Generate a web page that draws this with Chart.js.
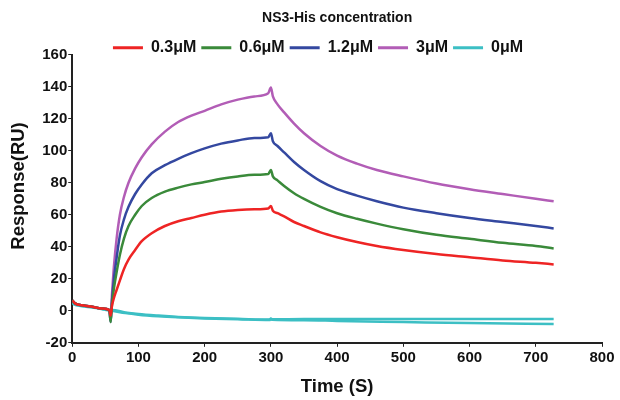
<!DOCTYPE html>
<html>
<head>
<meta charset="utf-8">
<script src="https://cdn.jsdelivr.net/npm/chart.js@4.4.0/dist/chart.umd.min.js"></script>
<style>
    html, body { margin: 0; padding: 0; background: #fff; }
    #wrap { width: 620px; height: 400px; }
</style>
</head>
<body>
<div id="wrap"><canvas id="chartSensor"></canvas></div>
<script>
// time points (s) shared by the four analyte curves
const tiempos = [0, 5, 15, 30, 45, 56, 58, 60, 63, 67, 72, 78, 85, 95, 105, 120, 140, 160, 180, 200, 225, 250, 275, 296, 300, 303, 310, 320, 335, 350, 375, 400, 430, 460, 500, 550, 600, 650, 700, 727];
const resp_03 = [6.5, 4.5, 3.5, 2.5, 1.5, 0.5, -3, 3, 8, 13, 19, 26, 32, 38, 43.5, 48.5, 53, 56, 58, 60, 62, 63, 63.5, 64, 65.5, 62.5, 61, 59, 55.5, 53, 49, 46, 43, 40.5, 38, 35.5, 33.5, 31.5, 30, 29];
const resp_06 = [6.5, 4.5, 3.5, 2.5, 1.5, 0.5, -7, 4, 14, 24, 35, 45, 53, 60, 65.5, 70.5, 74.5, 77, 79, 80.5, 82.5, 84, 85, 85.5, 88, 84, 81.5, 78, 73.5, 70, 65, 61, 57.5, 54.5, 51, 47.5, 45, 42.5, 40.5, 39];
const resp_12 = [6.5, 4.5, 3.5, 2.5, 1.5, 0.5, -7, 6, 20, 33, 47, 57, 65, 73, 79, 86, 91, 95, 98.5, 101.5, 104.5, 106.5, 108, 108.5, 111, 106, 103, 99, 93, 88, 81, 76, 72, 68.5, 64.5, 61, 58, 55.5, 53, 51.5];
const resp_3 = [6.5, 4.5, 3.5, 2.5, 1.5, 0.5, -4, 10, 28, 45, 60, 71, 80, 89, 96, 104, 112, 118, 122, 125, 129, 132, 134, 136, 139.5, 134, 129, 124, 117, 111, 103, 97, 92, 88, 84, 79.5, 76, 73, 70, 68.5];

// blank (0 uM) runs, two traces
const tiempos_0 = [0, 5, 15, 30, 45, 56, 60, 80, 100, 130, 160, 200, 250, 298, 300, 302, 350, 400, 500, 600, 727];
const resp_0a = [5, 4, 3.2, 2.3, 1.3, 0.5, 0.5, -1, -2, -3, -3.8, -4.5, -5, -5.5, -4.8, -5.3, -5.2, -5.2, -5.2, -5.2, -5.2];
const resp_0b = [4.5, 3.6, 2.8, 2, 1, 0.2, 0, -1.4, -2.4, -3.4, -4.1, -4.8, -5.3, -5.8, -5.2, -5.6, -5.9, -6.3, -7, -7.7, -8.3];

const etiquetas = ['0.3\u03bcM', '0.6\u03bcM', '1.2\u03bcM', '3\u03bcM', '0\u03bcM'];
const colores = ['#ee2424', '#3a8a3a', '#3448a0', '#b25db6', '#3cbfc4'];

function puntos(xs, ys) {
    const arr = [];
    for (let i = 0; i < xs.length; i++) {
        arr.push({ x: xs[i], y: ys[i] });
    }
    return arr;
}

function serie(label, xs, ys, color) {
    return {
        label: label,
        data: puntos(xs, ys),
        borderColor: color,
        backgroundColor: color,
        borderWidth: 2.5,
        pointRadius: 0,
        cubicInterpolationMode: 'monotone',
        fill: false
    };
}

const datasets = [
    serie(etiquetas[0], tiempos, resp_03, colores[0]),
    serie(etiquetas[1], tiempos, resp_06, colores[1]),
    serie(etiquetas[2], tiempos, resp_12, colores[2]),
    serie(etiquetas[3], tiempos, resp_3, colores[3]),
    serie(etiquetas[4], tiempos_0, resp_0a, colores[4]),
    serie('', tiempos_0, resp_0b, colores[4])
];

const fuenteBold = { family: 'Liberation Sans, Arial, sans-serif', weight: 'bold' };

// nudge the legend a bit to the right, like the original figure
const moverLeyenda = {
    id: 'moverLeyenda',
    beforeDraw(chart) {
        if (chart.legend) {
            chart.legend.left += 14;
            chart.legend.right += 14;
        }
    }
};

const config = {
    type: 'line',
    data: { datasets: datasets },
    options: {
        responsive: true,
        maintainAspectRatio: false,
        animation: false,
        layout: { padding: { left: 6, right: 18, top: 0, bottom: 2 } },
        plugins: {
            title: {
                display: true,
                text: 'NS3-His concentration',
                color: '#111',
                fullSize: false,
                font: { ...fuenteBold, size: 14 },
                padding: { top: 10, bottom: 8 }
            },
            legend: {
                position: 'top',
                fullSize: true,
                maxHeight: 20,
                labels: {
                    color: '#111',
                    boxWidth: 30,
                    boxHeight: 3,
                    padding: 5,
                    font: { ...fuenteBold, size: 16 },
                    generateLabels: function (chart) {
                        const items = Chart.defaults.plugins.legend.labels.generateLabels(chart);
                        for (let it of items) {
                            it.lineWidth = 0;
                        }
                        return items;
                    },
                    filter: function (item) { return item.text !== ''; }
                }
            },
            tooltip: { enabled: false }
        },
        scales: {
            x: {
                type: 'linear',
                min: 0,
                max: 800,
                border: { display: true, color: '#222', width: 2 },
                grid: { display: true, drawOnChartArea: false, drawTicks: true, tickLength: 4, color: '#222' },
                ticks: { stepSize: 100, color: '#111', font: { ...fuenteBold, size: 15 }, padding: 2 },
                title: { display: true, text: 'Time (S)', color: '#111', font: { ...fuenteBold, size: 18.5 }, padding: { top: 7, bottom: 0 } }
            },
            y: {
                min: -20,
                max: 160,
                border: { display: true, color: '#222', width: 2 },
                grid: { display: true, drawOnChartArea: false, drawTicks: true, tickLength: 4, color: '#222' },
                ticks: { stepSize: 20, color: '#111', font: { ...fuenteBold, size: 15 }, padding: 1 },
                title: { display: true, text: '     Response(RU)', color: '#111', font: { ...fuenteBold, size: 18.5 }, padding: { top: 2, bottom: 11 } }
            }
        }
    },
    plugins: [moverLeyenda]
};

const myChart = new Chart(document.getElementById('chartSensor'), config);
</script>
</body>
</html>
